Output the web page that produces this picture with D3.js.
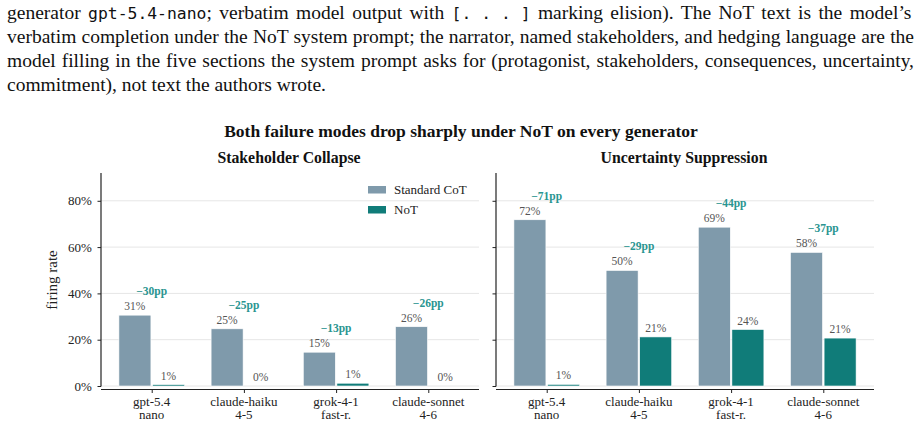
<!DOCTYPE html>
<html>
<head>
<meta charset="utf-8">
<script src="https://cdn.jsdelivr.net/npm/d3@7"></script>
<style>
  body { margin: 0; background: #fff; }
  svg { display: block; }
</style>
</head>
<body>
<div id="chart-area"></div>
<script>
// values
const generators = [["gpt-5.4", "nano"], ["claude-haiku", "4-5"], ["grok-4-1", "fast-r."], ["claude-sonnet", "4-6"]];
const stakeholderCot = [30.6, 24.7, 14.6, 25.6];
const stakeholderNot = [0.6, 0, 1.2, 0];
const uncertaintyCot = [71.8, 49.9, 68.6, 57.7];
const uncertaintyNot = [0.7, 21.2, 24.4, 20.7];
const yTicks = [0, 20, 40, 60, 80];
const seriesNames = ["Standard CoT", "NoT"];

// paragraph lines above the figure (mono parts flagged)
const paragraph = [
  [["generator ", 0], ["gpt-5.4-nano", 1], ["; verbatim model output with ", 0], ["[. . . ]", 1], [" marking elision).  The NoT text is the model’s", 0]],
  [["verbatim completion under the NoT system prompt; the narrator, named stakeholders, and hedging language are the", 0]],
  [["model filling in the five sections the system prompt asks for (protagonist, stakeholders, consequences, uncertainty,", 0]],
  [["commitment), not text the authors wrote.", 0]]
];

const cotColor = "#7f9aab", notColor = "#107c79", ppColor = "#2a9591";
const serif = "'Liberation Serif', 'Times New Roman', serif";
const mono = "'DejaVu Sans Mono', monospace";

let svg = d3.select("#chart-area").append("svg")
  .attr("width", 922)
  .attr("height", 429)
  .style("font-family", serif);

// paragraph, justified to full width except the last line
paragraph.forEach(function(line, i) {
  let t = svg.append("text")
    .attr("x", 7)
    .attr("y", 19 + i * 24)
    .attr("font-size", 19.5)
    .attr("fill", "#111");
  let spans = line.map(function(part) {
    return t.append("tspan")
      .text(part[0])
      .style("font-family", part[1] ? mono : serif)
      .attr("font-size", part[1] ? 16.4 : 19.5);
  });
  if (i < paragraph.length - 1) {
    let w = t.node().getComputedTextLength();
    let spaces = d3.sum(line, p => p[1] ? 0 : p[0].split(" ").length - 1);
    let ws = (907 - w) / spaces;
    spans.forEach((s, k) => s.attr("word-spacing", line[k][1] ? 0 : ws));
  }
});

svg.append("text")
  .attr("x", 461).attr("y", 137)
  .attr("text-anchor", "middle")
  .attr("font-size", 17.5).attr("font-weight", "bold").attr("fill", "#111")
  .text("Both failure modes drop sharply under NoT on every generator");

let y = d3.scaleLinear().domain([0, 92]).range([386, 173]);

function panel(x0, title, cot, not, showY, showLegend) {
  let g = svg.append("g").attr("transform", "translate(" + x0 + ",0)");
  let width = 378;
  let x = d3.scalePoint().domain(d3.range(generators.length)).range([0, width]).padding(0.55);
  let barW = 32;

  g.append("text")
    .attr("x", width / 2 - 1).attr("y", 163)
    .attr("text-anchor", "middle")
    .attr("font-size", 15.8).attr("font-weight", "bold").attr("fill", "#111")
    .text(title);

  // grid
  g.selectAll(".grid").data(yTicks).enter().append("line")
    .attr("x1", 0).attr("x2", width)
    .attr("y1", d => y(d)).attr("y2", d => y(d))
    .attr("stroke", "#e6e6e6").attr("stroke-width", 1);

  // y axis
  let yAxis = g.append("g")
    .call(d3.axisLeft(y).tickValues(yTicks).tickSize(3.5).tickFormat(showY ? d => d + "%" : ""));
  yAxis.select(".domain").remove();
  yAxis.selectAll(".tick line").attr("stroke", "#222");
  yAxis.selectAll(".tick text").attr("font-family", serif).attr("font-size", 13).attr("fill", "#222").attr("dx", "-0.2em");
  g.append("line").attr("x1", 0).attr("x2", 0).attr("y1", y.range()[1]).attr("y2", 386.5)
    .attr("stroke", "#222").attr("stroke-width", 1.2);

  // x axis, offset slightly below the zero line
  let xAxis = g.append("g").attr("transform", "translate(0,389.5)")
    .call(d3.axisBottom(x).tickSize(3.5).tickFormat(""));
  xAxis.select(".domain").remove();
  xAxis.selectAll(".tick line").attr("stroke", "#222");
  g.append("line").attr("x1", 0).attr("x2", width).attr("y1", 389.5).attr("y2", 389.5)
    .attr("stroke", "#222").attr("stroke-width", 1.2);
  [0, 1].forEach(function(k) {
    g.selectAll(".xlab" + k).data(generators).enter().append("text")
      .attr("x", (d, i) => x(i)).attr("y", 406 + k * 13)
      .attr("text-anchor", "middle")
      .attr("font-size", 13).attr("fill", "#222")
      .text(d => d[k]);
  });

  // bars
  let rows = generators.map((d, i) => ({ i: i, cot: cot[i], not: not[i] }));
  g.selectAll(".cot").data(rows).enter().append("rect")
    .attr("x", d => x(d.i) - barW - 0.8).attr("width", barW)
    .attr("y", d => y(d.cot)).attr("height", d => y(0) - y(d.cot))
    .attr("fill", cotColor).attr("stroke", "#fff").attr("stroke-width", 0.6);
  g.selectAll(".not").data(rows).enter().append("rect")
    .attr("x", d => x(d.i) + 0.8).attr("width", barW)
    .attr("y", d => y(d.not)).attr("height", d => y(0) - y(d.not))
    .attr("fill", notColor).attr("stroke", "#fff").attr("stroke-width", 0.6);

  // value labels
  g.selectAll(".vc").data(rows).enter().append("text")
    .attr("x", d => x(d.i) - barW / 2 - 0.8).attr("y", d => y(d.cot) - 5)
    .attr("text-anchor", "middle").attr("font-size", 11.5).attr("fill", "#555")
    .text(d => Math.round(d.cot) + "%");
  g.selectAll(".vn").data(rows).enter().append("text")
    .attr("x", d => x(d.i) + barW / 2 + 0.8).attr("y", d => y(d.not) - 5)
    .attr("text-anchor", "middle").attr("font-size", 11.5).attr("fill", "#555")
    .text(d => Math.round(d.not) + "%");
  g.selectAll(".pp").data(rows).enter().append("text")
    .attr("x", d => x(d.i)).attr("y", d => y(Math.max(d.cot, d.not)) - 20)
    .attr("text-anchor", "middle").attr("font-size", 11.5).attr("font-weight", "bold").attr("fill", ppColor)
    .text(d => "\u2212" + Math.round(d.cot - d.not) + "pp");

  if (showY) {
    svg.append("text")
      .attr("transform", "translate(57,280) rotate(-90)")
      .attr("text-anchor", "middle").attr("font-size", 15).attr("fill", "#222")
      .text("firing rate");
  }

  if (showLegend) {
    let leg = g.append("g").attr("transform", "translate(267,186)");
    let item = leg.selectAll(".li").data(seriesNames).enter().append("g")
      .attr("transform", (d, i) => "translate(0," + i * 20 + ")");
    item.append("rect").attr("width", 18).attr("height", 7.5)
      .attr("fill", (d, i) => i ? notColor : cotColor);
    item.append("text").attr("x", 26).attr("y", 8)
      .attr("font-size", 13).attr("fill", "#222").text(d => d);
  }
}

panel(101, "Stakeholder Collapse", stakeholderCot, stakeholderNot, true, true);
panel(496, "Uncertainty Suppression", uncertaintyCot, uncertaintyNot, false, false);
</script>
</body>
</html>
